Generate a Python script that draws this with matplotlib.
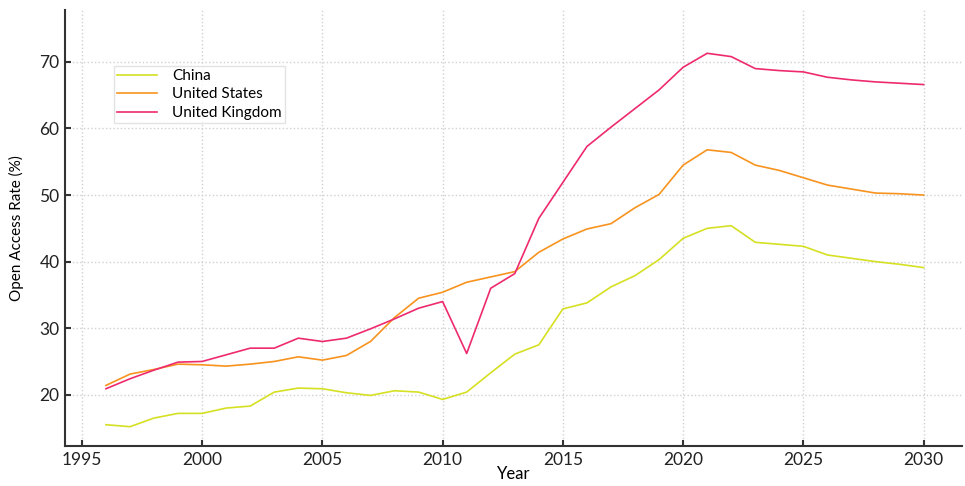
import numpy as np
import matplotlib
matplotlib.use('Agg')
import matplotlib.pyplot as plt

plt.rcParams['font.family'] = ['Lato', 'DejaVu Sans']

years = list(range(1996, 2031))

china = [15.5, 15.2, 16.5, 17.2, 17.2, 18.0, 18.3, 20.4, 21.0, 20.9,
         20.3, 19.9, 20.6, 20.4, 19.3, 20.4, 23.3, 26.1, 27.5, 32.9,
         33.8, 36.2, 37.9, 40.3, 43.5, 45.0, 45.4, 42.9, 42.6, 42.3,
         41.0, 40.5, 40.0, 39.6, 39.1]
usa = [21.4, 23.1, 23.8, 24.6, 24.5, 24.3, 24.6, 25.0, 25.7, 25.2,
       25.9, 28.0, 31.6, 34.5, 35.4, 36.9, 37.7, 38.5, 41.4, 43.4,
       44.9, 45.7, 48.1, 50.1, 54.5, 56.8, 56.4, 54.5, 53.7, 52.6,
       51.5, 50.9, 50.3, 50.2, 50.0]
uk = [20.9, 22.4, 23.7, 24.9, 25.0, 26.0, 27.0, 27.0, 28.5, 28.0,
      28.5, 29.9, 31.4, 33.0, 34.0, 26.2, 36.0, 38.2, 46.5, 51.9,
      57.3, 60.2, 63.0, 65.8, 69.2, 71.3, 70.8, 69.0, 68.7, 68.5,
      67.7, 67.3, 67.0, 66.8, 66.6]

labels = ['China', 'United States', 'United Kingdom']
colors = ['#d6e022', '#f7931e', '#ee2a6f']


def main():
    fig = plt.figure(figsize=(9.65, 4.86), dpi=100)
    ax = fig.add_axes([0.0674, 0.0823, 0.9296, 0.8971])

    for series, lab, col in zip([china, usa, uk], labels, colors):
        ax.plot(years, series, color=col, linewidth=1.2, label=lab)

    ax.set_xlim(1994.3, 2031.6)
    ax.set_ylim(12.3, 77.8)
    ax.set_xticks(range(1995, 2031, 5))
    ax.set_yticks(range(20, 71, 10))

    ax.grid(True, linestyle=':', color='#d0d0d0', linewidth=1)
    ax.set_axisbelow(True)
    for side in ['top', 'right']:
        ax.spines[side].set_visible(False)
    for side in ['left', 'bottom']:
        ax.spines[side].set_color('#333333')
        ax.spines[side].set_linewidth(1.5)
    ax.tick_params(direction='in', length=4, width=1.5, color='#333333',
                   labelsize=12.5, labelcolor='#222222', pad=4)

    ax.set_xlabel('Year', fontsize=12, labelpad=-1)
    ax.set_ylabel('Open Access Rate (%)', fontsize=11, labelpad=11)

    leg = ax.legend(loc='upper left', bbox_to_anchor=(0.055, 0.872),
                    fontsize=11, frameon=True, fancybox=False,
                    handlelength=2.6, handletextpad=1.0, borderpad=0.2,
                    labelspacing=0.3, borderaxespad=0)
    leg.get_frame().set_edgecolor('#dddddd')
    leg.get_frame().set_linewidth(1)

    fig.savefig('out.png', dpi=100)


main()
